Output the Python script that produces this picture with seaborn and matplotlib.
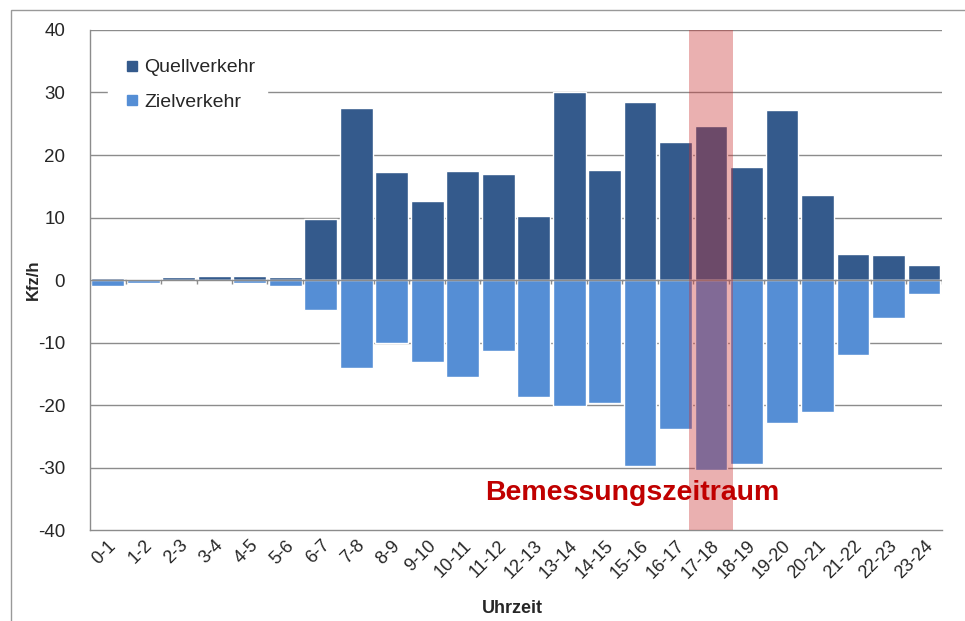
import numpy as np
import pandas as pd
import matplotlib.pyplot as plt
import seaborn as sns
from matplotlib.patches import Rectangle
from matplotlib.lines import Line2D

# Stunden-Kategorien
uhrzeit = ["0-1", "1-2", "2-3", "3-4", "4-5", "5-6", "6-7", "7-8", "8-9", "9-10",
           "10-11", "11-12", "12-13", "13-14", "14-15", "15-16", "16-17", "17-18",
           "18-19", "19-20", "20-21", "21-22", "22-23", "23-24"]

# Kfz/h je Stunde
quellverkehr = [0.3, 0.1, 0.5, 0.7, 0.7, 0.5, 9.8, 27.5, 17.3, 12.6, 17.4, 17.0,
                10.2, 30.0, 17.6, 28.5, 22.1, 24.6, 18.1, 27.2, 13.6, 4.2, 4.0, 2.4]
zielverkehr = [-1.0, -0.4, -0.2, -0.2, -0.4, -0.9, -4.8, -14.1, -10.0, -13.1, -15.5, -11.4,
               -18.7, -20.2, -19.7, -29.8, -23.8, -30.4, -29.4, -22.9, -21.1, -12.0, -6.0, -2.3]

y_ticks = [-40, -30, -20, -10, 0, 10, 20, 30, 40]
highlight = "17-18"

dark_blue = "#345a8c"
light_blue = "#558ed5"
grid_grey = "#8c8c8c"

sns.set_style("white")
plt.rcParams["font.family"] = ["Liberation Sans", "DejaVu Sans"]
narrow = ["Liberation Sans Narrow", "Liberation Sans", "DejaVu Sans"]

df = pd.DataFrame({"Uhrzeit": uhrzeit, "Quell": quellverkehr, "Ziel": zielverkehr})

fig = plt.figure(figsize=(9.65, 6.21), dpi=100)
ax = fig.add_axes([0.0933, 0.1465, 0.8827, 0.8052])

for y in y_ticks[1:]:
    ax.axhline(y, color=grid_grey, lw=1, zorder=0)

sns.barplot(data=df, x="Uhrzeit", y="Quell", color=dark_blue, width=0.92,
            saturation=1, ax=ax, zorder=2)
sns.barplot(data=df, x="Uhrzeit", y="Ziel", color=light_blue, width=0.92,
            saturation=1, ax=ax, zorder=2)

# Kategorieachse bei 0 mit Teilstrichen
ax.axhline(0, color=grid_grey, lw=1, zorder=3)
ax.vlines(np.arange(len(uhrzeit) + 1) - 0.5, -0.7, 0, color=grid_grey, lw=1, zorder=3)

# Bemessungszeitraum hervorheben
hi = uhrzeit.index(highlight)
ax.axvspan(hi - 0.62, hi + 0.62, color="#c93030", alpha=0.38, lw=0, zorder=4)
ax.text(14.78, -34.1, "Bemessungszeitraum", color="#c00000", fontsize=20.5,
        fontweight="bold", ha="center", va="center", zorder=5)

ax.set_xlim(-0.5, len(uhrzeit) - 0.5)
ax.set_ylim(-40, 40)
ax.set_yticks(y_ticks)
ax.set_yticklabels([str(v) for v in y_ticks], fontsize=13.5)
ax.tick_params(axis="y", length=6, color=grid_grey, direction="out", pad=12)
ax.tick_params(axis="x", length=0, pad=5)
ax.set_xticks(range(len(uhrzeit)))
ax.set_xticklabels(uhrzeit, rotation=45, ha="right", rotation_mode="anchor",
                   fontsize=13, family=narrow)

sns.despine(ax=ax, top=True, right=True)
for s in ["left", "bottom"]:
    ax.spines[s].set_color(grid_grey)
    ax.spines[s].set_linewidth(1)

ax.set_ylabel("Kfz/h", fontsize=12, fontweight="bold")
ax.yaxis.set_label_coords(-0.058, 0.5)
ax.set_xlabel("Uhrzeit", fontsize=13, fontweight="bold", family=narrow)
ax.xaxis.set_label_coords(0.496, -0.156)
ax.xaxis.label.set_va("center")

handles = [Line2D([], [], marker="s", ls="", color=dark_blue, markersize=6.5),
           Line2D([], [], marker="s", ls="", color=light_blue, markersize=6.5)]
leg = ax.legend(handles, ["Quellverkehr", "Zielverkehr"], loc="upper left",
                bbox_to_anchor=(0.01, 0.985), fontsize=14, frameon=True,
                handletextpad=0.05, labelspacing=0.85, borderpad=0.6, handlelength=1.2)
leg.get_frame().set_edgecolor("white")
leg.get_frame().set_facecolor("white")
leg.get_frame().set_alpha(1)
leg.set_zorder(6)

# Rahmen um die Grafik
fig.patches.append(Rectangle((11 / 965, -0.05), 1.1, 1 - 10 / 621 + 0.05,
                             transform=fig.transFigure, fill=False,
                             edgecolor="#999999", lw=1))

fig.savefig("out.png", dpi=100)
